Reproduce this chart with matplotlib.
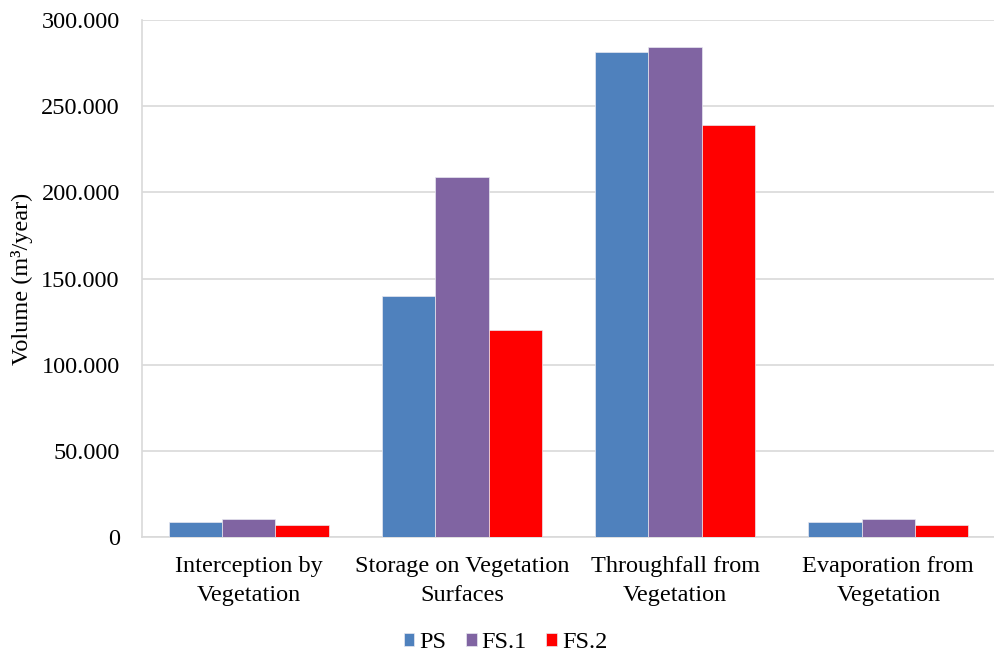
import matplotlib
matplotlib.use("Agg")
import matplotlib.pyplot as plt
import numpy as np
from matplotlib.ticker import FuncFormatter, MultipleLocator

categories = ["Interception by\nVegetation", "Storage on Vegetation\nSurfaces",
              "Throughfall from\nVegetation", "Evaporation from\nVegetation"]
series_names = ["PS", "FS.1", "FS.2"]
ps = [8500, 140000, 281500, 8500]
fs1 = [10500, 208700, 284500, 10500]
fs2 = [7000, 120000, 239000, 7000]
colors = ["#4F81BD", "#8064A2", "#FF0000"]

plt.rcParams["font.family"] = ["Liberation Serif", "DejaVu Serif"]
FS = 17.5

fig = plt.figure(figsize=(9.95, 6.57), dpi=100)
ax = fig.add_axes([0.1427, 0.1826, 0.8573, 0.787])

x = np.arange(len(categories))
width = 0.25
for i, (vals, name, c) in enumerate(zip([ps, fs1, fs2], series_names, colors)):
    ax.bar(x + (i - 1) * width, vals, width, color=c, label=name,
           edgecolor="#E8E8F0", linewidth=0.5, zorder=3)

ax.set_xlim(-0.5, len(categories) - 0.5)
ax.set_ylim(0, 300000)
ax.yaxis.set_major_locator(MultipleLocator(50000))
ax.yaxis.set_major_formatter(FuncFormatter(lambda v, p: f"{v:,.0f}".replace(",", ".")))
ax.set_xticks(x)
ax.set_xticklabels(categories, fontsize=FS, linespacing=1.45)
ax.tick_params(axis="both", length=0, labelsize=FS, colors="#000000")
ax.tick_params(axis="x", pad=14)
ax.tick_params(axis="y", pad=16)

ax.grid(axis="y", color="#D9D9D9", linewidth=1.2, zorder=0)
for side in ["top", "right"]:
    ax.spines[side].set_visible(False)
for side in ["left", "bottom"]:
    ax.spines[side].set_color("#D9D9D9")
    ax.spines[side].set_linewidth(1.2)

ax.set_ylabel("Volume (m³/year)", fontsize=FS, labelpad=6)

fig.legend(loc="lower center", bbox_to_anchor=(0.508, 0.0), ncol=3, frameon=False,
           fontsize=FS, handlelength=0.45, handleheight=0.45, handletextpad=0.2,
           columnspacing=0.8, borderaxespad=0, borderpad=0.15)

fig.savefig("out.png", dpi=100)
